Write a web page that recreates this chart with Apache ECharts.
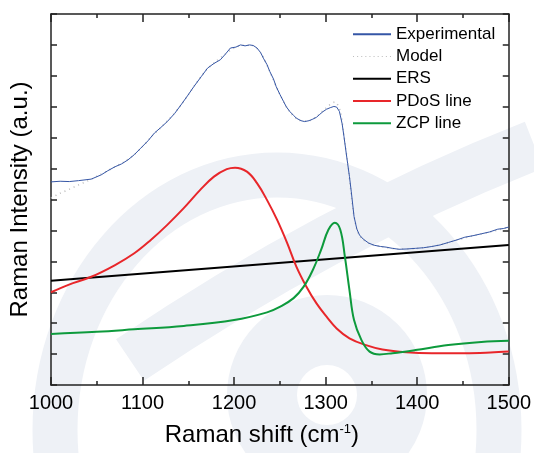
<!DOCTYPE html>
<html>
<head>
<meta charset="utf-8">
<script src="https://cdn.jsdelivr.net/npm/echarts@6/dist/echarts.min.js"></script>
<style>
  html, body { margin: 0; padding: 0; background: #fff; }
  #chart { width: 534px; height: 453px; }
</style>
</head>
<body>
<div id="chart"></div>
<script>
// Raman spectrum: measured curve, fitted model and its three components
const xTicks = [1000, 1100, 1200, 1300, 1400, 1500];

const expX = [1000, 1010, 1020, 1030, 1044, 1055, 1062, 1070, 1077, 1084, 1091, 1098, 1106, 1113, 1120, 1127,
  1135, 1142, 1149, 1156, 1164, 1171, 1178, 1185, 1191, 1196, 1202, 1207, 1212, 1217, 1221, 1225, 1229, 1232,
  1236, 1239, 1243, 1246, 1250, 1254, 1257, 1261, 1265, 1268, 1273, 1277, 1282, 1286, 1290, 1293, 1297, 1301,
  1305, 1309, 1312, 1315, 1318, 1320, 1322, 1324, 1326, 1328, 1331, 1334, 1337, 1341, 1347, 1353, 1360, 1366,
  1373, 1380, 1389, 1398, 1407, 1416, 1425, 1434, 1443, 1452, 1461, 1470, 1479, 1488, 1494, 1500];
const expY = [6.57, 6.59, 6.58, 6.61, 6.66, 6.80, 6.93, 7.06, 7.15, 7.28, 7.45, 7.66, 7.90, 8.15, 8.33, 8.52,
  8.78, 9.06, 9.35, 9.65, 9.97, 10.25, 10.40, 10.52, 10.72, 10.90, 10.93, 11.00, 10.97, 11.00, 10.98, 10.90, 10.75, 10.57,
  10.36, 10.14, 9.90, 9.65, 9.40, 9.17, 9.00, 8.84, 8.72, 8.63, 8.55, 8.52, 8.55, 8.60, 8.66, 8.74, 8.84, 8.92,
  8.97, 9.01, 8.99, 8.85, 8.45, 8.04, 7.60, 7.17, 6.74, 6.25, 5.45, 5.05, 4.85, 4.72, 4.59, 4.52, 4.48, 4.46,
  4.42, 4.39, 4.40, 4.42, 4.44, 4.48, 4.53, 4.61, 4.69, 4.78, 4.83, 4.89, 4.95, 5.04, 5.06, 5.11];

const modelX = [1000, 1010, 1020, 1030, 1040, 1050, 1060, 1070, 1080, 1090, 1100, 1110, 1120, 1130, 1140, 1150,
  1160, 1170, 1180, 1190, 1200, 1210, 1220, 1230, 1240, 1250, 1260, 1270, 1280, 1290, 1300, 1310, 1316, 1320,
  1325, 1330, 1335, 1340, 1350, 1360, 1380, 1400, 1420, 1440, 1460, 1480, 1500];
const modelY = [6.05, 6.20, 6.33, 6.47, 6.60, 6.75, 6.90, 7.06, 7.22, 7.43, 7.71, 8.04, 8.33, 8.63, 8.98, 9.39,
  9.82, 10.20, 10.46, 10.70, 10.90, 10.99, 10.98, 10.70, 10.07, 9.40, 8.87, 8.58, 8.54, 8.68, 8.95, 9.15, 8.85, 8.05,
  6.95, 5.65, 4.95, 4.72, 4.55, 4.48, 4.40, 4.42, 4.50, 4.66, 4.82, 4.95, 5.10];

const ersX = [1000, 1500];
const ersY = [3.37, 4.53];

const pdosX = [1000, 1019, 1044, 1070, 1091, 1109, 1127, 1145, 1163, 1178, 1192, 1201, 1214, 1225, 1236, 1247,
  1258, 1268, 1279, 1290, 1301, 1312, 1326, 1344, 1362, 1388, 1416, 1452, 1480, 1500];
const pdosY = [3.00, 3.24, 3.50, 3.88, 4.26, 4.69, 5.18, 5.72, 6.31, 6.74, 6.98, 7.03, 6.90, 6.53, 5.98, 5.34,
  4.59, 3.83, 3.18, 2.64, 2.21, 1.83, 1.51, 1.29, 1.15, 1.06, 1.03, 1.03, 1.05, 1.08];

const zcpX = [1000, 1050, 1091, 1145, 1200, 1236, 1250, 1265, 1276, 1286, 1295, 1303, 1310, 1316, 1321,
  1326, 1331, 1339, 1348, 1359, 1373, 1398, 1434, 1470, 1500];
const zcpY = [1.65, 1.72, 1.80, 1.91, 2.10, 2.35, 2.53, 2.81, 3.18, 3.72, 4.37, 5.02, 5.25, 5.02, 4.15,
  3.07, 2.10, 1.46, 1.08, 0.99, 1.03, 1.13, 1.29, 1.39, 1.43];

const FONT = 'Liberation Sans, Arial, sans-serif';
const WM = '#eef1f6';
const DOTS = 'path://M0 0h1v1h-1zM4 0h1v1h-1zM8 0h1v1h-1zM12 0h1v1h-1zM16 0h1v1h-1zM20 0h1v1h-1z' +
    'M24 0h1v1h-1zM28 0h1v1h-1zM32 0h1v1h-1zM36 0h1v1h-1z';

function pairs(xs, ys) {
    return xs.map((x, i) => [x, ys[i]]);
}

function frameAxis(opts) {
    return Object.assign({
        type: 'value',
        axisLine: { show: true, onZero: false, lineStyle: { color: '#222', width: 1.5 } },
        axisLabel: { show: false },
        splitLine: { show: false }
    }, opts);
}

function lineSeries(name, data, color, width, extra) {
    return Object.assign({
        name: name,
        type: 'line',
        data: data,
        symbol: 'none',
        showSymbol: false,
        silent: true,
        lineStyle: { color: color, width: width },
        itemStyle: { color: color }
    }, extra || {});
}

const chart = echarts.init(document.getElementById('chart'), null, { renderer: 'canvas' });

chart.setOption({
    backgroundColor: '#fff',
    animation: false,
    textStyle: { fontFamily: FONT },
    // faint logo watermark behind the plot
    graphic: [
        { type: 'ellipse', z: -10, silent: true, shape: { cx: 277, cy: 430, rx: 222, ry: 255 },
          style: { fill: null, stroke: WM, lineWidth: 45 } },
        { type: 'bezierCurve', z: -10, silent: true,
          shape: { x1: 130, y1: 360, x2: 534, y2: 145, cpx1: 330, cpy1: 225 },
          style: { fill: null, stroke: WM, lineWidth: 50 } },
        { type: 'circle', z: -10, silent: true, shape: { cx: 327, cy: 395, r: 65 },
          style: { fill: null, stroke: WM, lineWidth: 70 } }
    ],
    grid: { left: 49, right: 23, top: 14, bottom: 68 },
    legend: {
        left: 348,
        top: 19,
        orient: 'vertical',
        itemWidth: 38,
        itemHeight: 2,
        itemGap: 2,
        textStyle: { fontSize: 17, color: '#000', fontFamily: FONT, lineHeight: 20.3 },
        data: [
            { name: 'Experimental', icon: 'rect' },
            { name: 'Model', icon: DOTS },
            { name: 'ERS', icon: 'rect' },
            { name: 'PDoS line', icon: 'rect' },
            { name: 'ZCP line', icon: 'rect' }
        ]
    },
    xAxis: [
        frameAxis({
            min: 1000, max: 1500, interval: 100,
            position: 'bottom',
            name: 'Raman shift (cm{sup|-1})',
            nameLocation: 'middle',
            nameGap: 38,
            nameTextStyle: {
                fontSize: 24, color: '#000', fontFamily: FONT, padding: [0, 36, 0, 0],
                rich: { sup: { fontSize: 13, verticalAlign: 'top', padding: [0, 0, 10, 0] } }
            },
            axisTick: { show: true, inside: true, length: 8, lineStyle: { color: '#222', width: 1.5 } },
            minorTick: { show: true, splitNumber: 2, length: 4, lineStyle: { color: '#222', width: 1.5 } },
            axisLabel: {
                show: true, fontSize: 20, color: '#000', fontFamily: FONT, margin: 8,
                formatter: v => (xTicks.indexOf(v) >= 0 ? String(v) : '')
            }
        }),
        frameAxis({
            min: 1000, max: 1500, interval: 100,
            position: 'top',
            axisTick: { show: true, inside: true, length: 8, lineStyle: { color: '#222', width: 1.5 } },
            minorTick: { show: true, splitNumber: 2, length: 4, lineStyle: { color: '#222', width: 1.5 } }
        })
    ],
    yAxis: [
        frameAxis({
            min: 0, max: 12, interval: 1,
            position: 'left',
            name: 'Raman Intensity (a.u.)',
            nameLocation: 'middle',
            nameGap: 19,
            nameTextStyle: { fontSize: 24, color: '#000', fontFamily: FONT },
            axisTick: { show: true, inside: true, length: 6, lineStyle: { color: '#222', width: 1.5 } }
        }),
        frameAxis({
            min: 0, max: 12, interval: 1,
            position: 'right',
            axisTick: { show: true, inside: true, length: 6, lineStyle: { color: '#222', width: 1.5 } }
        })
    ],
    series: [
        lineSeries('Model', pairs(modelX, modelY), '#bdbdbd', 1.6, { smooth: 0.3, lineStyle: { color: '#bdbdbd', width: 1.6, type: [1, 4] } }),
        lineSeries('Experimental', pairs(expX, expY), '#3556a6', 1),
        lineSeries('ERS', pairs(ersX, ersY), '#000000', 2),
        lineSeries('PDoS line', pairs(pdosX, pdosY), '#e8262a', 2, { smooth: 0.4 }),
        lineSeries('ZCP line', pairs(zcpX, zcpY), '#0d9a3c', 2, { smooth: 0.4 })
    ]
});
</script>
</body>
</html>
